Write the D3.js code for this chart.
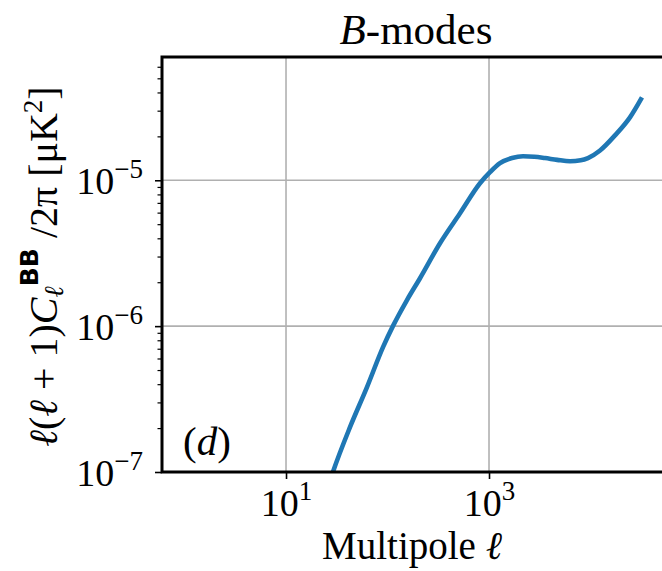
<!DOCTYPE html>
<html>
<head>
<meta charset="utf-8">
<script src="https://cdn.jsdelivr.net/npm/d3@7"></script>
<style>
  body { margin: 0; background: #fff; }
  svg { display: block; }
  text { font-family: "Liberation Serif", "DejaVu Serif", serif; fill: #000; }
</style>
</head>
<body>
<div id="chart"></div>
<script>
// B-mode power spectrum
var ell   = [28, 29, 42.7, 62.8, 90.3, 113, 155.6, 209, 329, 518, 815, 1023, 1283, 1686, 2163, 2800, 3563, 4700, 6281, 8000, 9444, 12410, 17420, 24480, 32150];
var clBB  = [9.3e-8, 1.0e-7, 2.03e-7, 3.82e-7, 7.18e-7, 1.0e-6, 1.51e-6, 2.13e-6, 3.70e-6, 5.94e-6, 9.54e-6, 1.135e-5, 1.31e-5, 1.42e-5, 1.46e-5, 1.45e-5, 1.42e-5, 1.38e-5, 1.35e-5, 1.37e-5, 1.42e-5, 1.60e-5, 2.03e-5, 2.70e-5, 3.70e-5];

var xTicks = [10, 1000];
var xTickExp = ["1", "3"];
var yTicks = [1e-7, 1e-6, 1e-5];
var yTickExp = ["\u22127", "\u22126", "\u22125"];

var margin = {top: 57, left: 162},
    width = 508,
    height = 415;

var svg = d3.select("#chart").append("svg")
    .attr("width", 662)
    .attr("height", 571);

var x = d3.scaleLog().domain([0.6, 6.07e4]).range([0, width]);
var y = d3.scaleLog().domain([1e-7, 7e-5]).range([height, 0]);

var g = svg.append("g").attr("transform", `translate(${margin.left},${margin.top})`);

g.append("clipPath").attr("id", "clip")
  .append("rect").attr("width", width).attr("height", height);

// grid
g.selectAll(".vgrid").data(xTicks).enter().append("line")
  .attr("x1", d => x(d)).attr("x2", d => x(d))
  .attr("y1", 0).attr("y2", height)
  .attr("stroke", "#b0b0b0").attr("stroke-width", 1.6);
g.selectAll(".hgrid").data(yTicks).enter().append("line")
  .attr("y1", d => y(d)).attr("y2", d => y(d))
  .attr("x1", 0).attr("x2", width)
  .attr("stroke", "#b0b0b0").attr("stroke-width", 1.6);

// curve
g.append("path")
  .datum(ell.map((l, i) => [l, clBB[i]]))
  .attr("clip-path", "url(#clip)")
  .attr("fill", "none")
  .attr("stroke", "#1f77b4")
  .attr("stroke-width", 4.6)
  .attr("d", d3.line().x(d => x(d[0])).y(d => y(d[1])).curve(d3.curveMonotoneX));

// x axis
var xAxis = g.append("g")
  .attr("transform", `translate(0,${height})`)
  .call(d3.axisBottom(x).tickValues(xTicks).tickSize(7).tickPadding(11).tickFormat(() => ""));
xAxis.select(".domain").remove();
xAxis.selectAll(".tick line").attr("stroke", "#000").attr("stroke-width", 1.6);
xAxis.selectAll(".tick text").each(function(d, i) {
  var t = d3.select(this).attr("font-size", 38).attr("dy", "0.68em").attr("fill", "#000");
  t.append("tspan").text("10");
  t.append("tspan").attr("font-size", 27).attr("dy", -16).text(xTickExp[i]);
});

// y minor ticks
var yMinor = [];
[1e-7, 1e-6, 1e-5].forEach(function(p) {
  for (var k = 2; k <= 9; k++) { if (k * p <= 7e-5) yMinor.push(k * p); }
});
var yMinorAxis = g.append("g")
  .call(d3.axisLeft(y).tickValues(yMinor).tickSize(4.5).tickFormat(() => ""));
yMinorAxis.select(".domain").remove();
yMinorAxis.selectAll(".tick line").attr("stroke", "#000").attr("stroke-width", 1.2);

// y axis
var yAxis = g.append("g")
  .call(d3.axisLeft(y).tickValues(yTicks).tickSize(7).tickPadding(12).tickFormat(() => ""));
yAxis.select(".domain").remove();
yAxis.selectAll(".tick line").attr("stroke", "#000").attr("stroke-width", 1.6);
yAxis.selectAll(".tick text").each(function(d, i) {
  var t = d3.select(this).attr("font-size", 38).attr("dy", "0.36em").attr("fill", "#000");
  t.append("tspan").text("10");
  t.append("tspan").attr("font-size", 27).attr("dy", -16).text(yTickExp[i]);
});

// frame (right edge falls outside the page)
g.append("path")
  .attr("d", `M${width},0H0V${height}H${width}V0`)
  .attr("fill", "none").attr("stroke", "#000").attr("stroke-width", 3);

// title
var title = svg.append("text")
  .attr("x", margin.left + width / 2).attr("y", 44)
  .attr("text-anchor", "middle").attr("font-size", 43);
title.append("tspan").attr("font-style", "italic").text("B");
title.append("tspan").text("-modes");

// panel label
var panel = g.append("text").attr("x", 21).attr("y", 398).attr("font-size", 41);
panel.append("tspan").text("(");
panel.append("tspan").attr("font-style", "italic").text("d");
panel.append("tspan").text(")");

// x label
var xl = svg.append("text")
  .attr("x", margin.left + width / 2 - 4).attr("y", 559)
  .attr("text-anchor", "middle").attr("font-size", 39);
xl.append("tspan").text("Multipole ");
xl.append("tspan").attr("font-style", "italic").text("\u2113");

// y label
var yl = svg.append("text")
  .attr("transform", `translate(57,${margin.top + height / 2 + 2}) rotate(-90)`)
  .attr("text-anchor", "middle").attr("font-size", 40);
yl.append("tspan").attr("font-style", "italic").text("\u2113");
yl.append("tspan").text("(");
yl.append("tspan").attr("font-style", "italic").text("\u2113");
yl.append("tspan").text(" + 1)");
yl.append("tspan").attr("font-style", "italic").text("C");
yl.append("tspan").attr("font-style", "italic").attr("font-size", 27).attr("dy", 6).text("\u2113");
yl.append("tspan").attr("font-family", "DejaVu Sans").attr("font-weight", "bold")
  .attr("font-size", 25).attr("dy", -25).text("BB");
yl.append("tspan").attr("dy", 19).text(" /2\u03c0 [\u03bcK");
yl.append("tspan").attr("font-size", 27).attr("dy", -15).text("2");
yl.append("tspan").attr("dy", 15).text("]");
</script>
</body>
</html>
